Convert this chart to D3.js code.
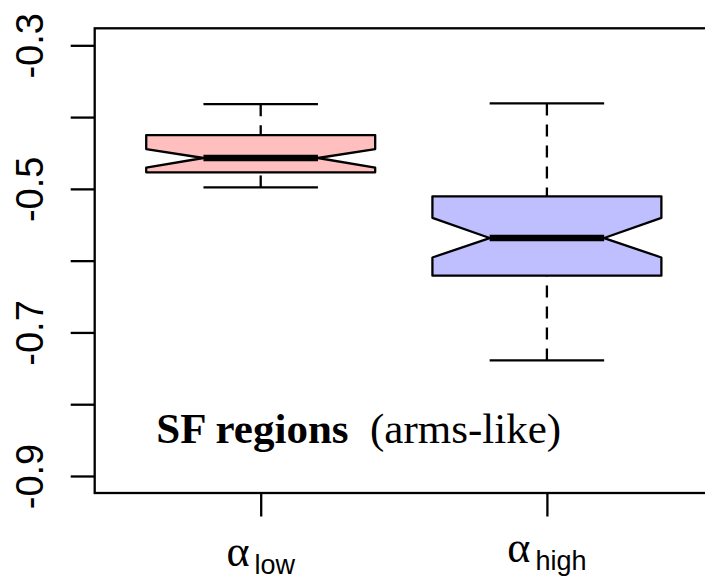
<!DOCTYPE html>
<html>
<head>
<meta charset="utf-8">
<script src="https://cdn.jsdelivr.net/npm/d3@7"></script>
<style>
  body { margin: 0; background: #ffffff; }
</style>
</head>
<body>
<div id="chart"></div>
<script>
// Data
var groups = ['low', 'high'];
var whisker_lo = [-0.498, -0.739];
var q1 = [-0.477, -0.621];
var medians = [-0.457, -0.5685];
var q3 = [-0.425, -0.5104];
var whisker_hi = [-0.382, -0.381];
var notch_lo = [-0.4705, -0.5956];
var notch_hi = [-0.4445, -0.5403];
var y_ticks = [-0.3, -0.4, -0.5, -0.6, -0.7, -0.8, -0.9];
var y_labels = [-0.3, -0.5, -0.7, -0.9];
var fills = ['#ffbfbf', '#bfbfff'];

// SVG Element
var chart_width = 705;
var chart_height = 578;
var svg = d3.select('#chart')
    .append('svg')
    .attr('width', chart_width)
    .attr('height', chart_height);

// plot region (right side runs off the page, as in the original)
var plot_left = 94.7, plot_right = 712.9, plot_top = 28.3, plot_bottom = 493;

var x_scale = d3.scaleLinear()
    .domain([0.42, 2.58])
    .range([plot_left, plot_right]);

var y_scale = d3.scaleLinear()
    .domain([-0.2763, -0.9237])
    .range([plot_top, plot_bottom]);

var half = x_scale(1.4) - x_scale(1);   // half box width (0.4 units)
var black = '#000000';
var lw = 2.3;

// Y axis
var y_axis = d3.axisLeft(y_scale)
    .tickValues(y_ticks)
    .tickSize(24)
    .tickSizeOuter(0)
    .tickFormat(function (d) {
        return y_labels.some(function (v) { return Math.abs(v - d) < 1e-9; }) ? d3.format('.1f')(d).replace('−', '-') : '';
    });

var gy = svg.append('g')
    .attr('transform', 'translate(' + plot_left + ',0)')
    .call(y_axis);
gy.select('.domain').remove();
gy.selectAll('line').attr('stroke', black).attr('stroke-width', lw);
gy.selectAll('text')
    .attr('x', 0)
    .attr('dy', null)
    .attr('text-anchor', 'middle')
    .attr('transform', 'translate(-52,0) rotate(-90)')
    .attr('fill', black)
    .attr('font-family', '"Liberation Sans", Arial, sans-serif')
    .attr('font-size', 38);

// X axis
var x_axis = d3.axisBottom(x_scale)
    .tickValues(d3.range(1, groups.length + 1))
    .tickSize(23.5)
    .tickSizeOuter(0)
    .tickFormat('');

var gx = svg.append('g')
    .attr('transform', 'translate(0,' + plot_bottom + ')')
    .call(x_axis);
gx.select('.domain').remove();
gx.selectAll('line').attr('stroke', black).attr('stroke-width', lw);

// x labels: alpha with subscript
groups.forEach(function (g, i) {
    var shift = /[gjpqy]/.test(g) ? -4 : 0;
    var t = svg.append('text')
        .attr('x', x_scale(i + 1))
        .attr('y', 566 + shift)
        .attr('text-anchor', 'middle')
        .attr('fill', black);
    t.append('tspan')
        .attr('font-family', '"Liberation Serif", "Times New Roman", serif')
        .attr('font-size', 44)
        .text('α');
    t.append('tspan')
        .attr('dx', 5)
        .attr('dy', 8)
        .attr('font-family', '"Liberation Sans", Arial, sans-serif')
        .attr('font-size', 27)
        .text(g);
});

// Whiskers (dashed, drawn from cap toward the box)
var idx = d3.range(groups.length);
svg.selectAll('line.whisk-hi')
    .data(idx)
    .enter()
    .append('line')
    .attr('x1', function (i) { return x_scale(i + 1); })
    .attr('x2', function (i) { return x_scale(i + 1); })
    .attr('y1', function (i) { return y_scale(whisker_hi[i]); })
    .attr('y2', function (i) { return y_scale(q3[i]); })
    .attr('stroke', black)
    .attr('stroke-width', lw)
    .attr('stroke-dasharray', '12,9');

svg.selectAll('line.whisk-lo')
    .data(idx)
    .enter()
    .append('line')
    .attr('x1', function (i) { return x_scale(i + 1); })
    .attr('x2', function (i) { return x_scale(i + 1); })
    .attr('y1', function (i) { return y_scale(whisker_lo[i]); })
    .attr('y2', function (i) { return y_scale(q1[i]); })
    .attr('stroke', black)
    .attr('stroke-width', lw)
    .attr('stroke-dasharray', '12,9');

// Caps
[whisker_hi, whisker_lo].forEach(function (arr) {
    svg.selectAll(null)
        .data(idx)
        .enter()
        .append('line')
        .attr('x1', function (i) { return x_scale(i + 1) - half / 2; })
        .attr('x2', function (i) { return x_scale(i + 1) + half / 2; })
        .attr('y1', function (i) { return y_scale(arr[i]); })
        .attr('y2', function (i) { return y_scale(arr[i]); })
        .attr('stroke', black)
        .attr('stroke-width', lw);
});

// Notched boxes
svg.selectAll('path.box')
    .data(idx)
    .enter()
    .append('path')
    .attr('d', function (i) {
        var cx = x_scale(i + 1);
        var pts = [
            [cx - half, y_scale(q1[i])],
            [cx - half, y_scale(notch_lo[i])],
            [cx - half / 2, y_scale(medians[i])],
            [cx - half, y_scale(notch_hi[i])],
            [cx - half, y_scale(q3[i])],
            [cx + half, y_scale(q3[i])],
            [cx + half, y_scale(notch_hi[i])],
            [cx + half / 2, y_scale(medians[i])],
            [cx + half, y_scale(notch_lo[i])],
            [cx + half, y_scale(q1[i])]
        ];
        return d3.line()(pts) + 'Z';
    })
    .attr('fill', function (i) { return fills[i]; })
    .attr('stroke', black)
    .attr('stroke-width', lw)
    .attr('stroke-linejoin', 'round');

// Medians
svg.selectAll('line.median')
    .data(idx)
    .enter()
    .append('line')
    .attr('x1', function (i) { return x_scale(i + 1) - half / 2; })
    .attr('x2', function (i) { return x_scale(i + 1) + half / 2; })
    .attr('y1', function (i) { return y_scale(medians[i]); })
    .attr('y2', function (i) { return y_scale(medians[i]); })
    .attr('stroke', black)
    .attr('stroke-width', 6.5);

// Frame
svg.append('rect')
    .attr('x', plot_left)
    .attr('y', plot_top)
    .attr('width', plot_right - plot_left)
    .attr('height', plot_bottom - plot_top)
    .attr('fill', 'none')
    .attr('stroke', black)
    .attr('stroke-width', lw);

// Annotation
var note = svg.append('text')
    .attr('x', x_scale(0.635))
    .attr('y', y_scale(-0.854))
    .attr('font-family', '"Liberation Serif", "Times New Roman", serif')
    .attr('font-size', 43)
    .attr('fill', black);
note.append('tspan').attr('font-weight', 'bold').text('SF regions');
note.append('tspan').attr('xml:space', 'preserve').text('  (arms-like)');
</script>
</body>
</html>
